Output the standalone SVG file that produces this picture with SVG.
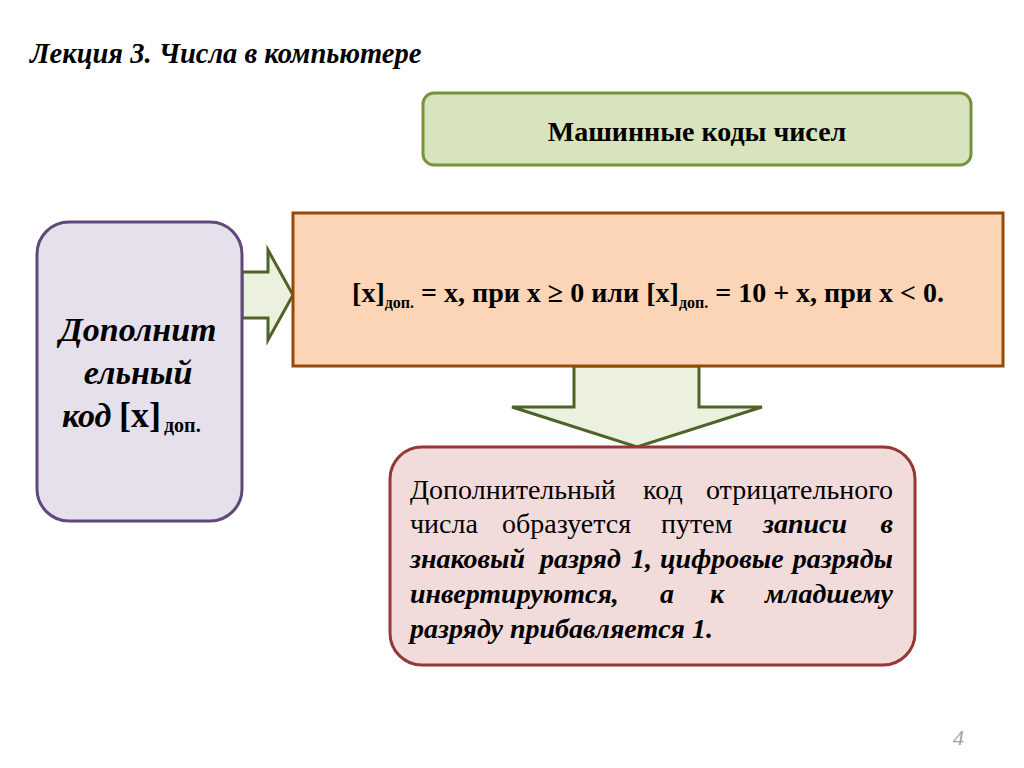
<svg xmlns="http://www.w3.org/2000/svg" width="1024" height="768" viewBox="0 0 1024 768">
<style>
text{font-family:'Liberation Serif','Times New Roman','DejaVu Serif',serif;fill:#000}
.bi{font-weight:bold;font-style:italic}
.b{font-weight:bold}
.arrow{fill:#ebf1de;stroke:#4f6228;stroke-width:3;stroke-linejoin:miter}
.body{font-size:28px}
</style>
<rect width="1024" height="768" fill="#fff"/>
<text id="title" class="bi" x="30" y="63" font-size="28.5">Лекция 3. Числа в компьютере</text>

<g id="connectors">
<polygon class="arrow" points="242,272 268,272 268,250 293,295 268,340 268,318 242,318"/>
<polygon class="arrow" points="574,366 699,366 699,407 762,407 637,447 512,407 574,407"/>
</g>

<g id="node-top">
<rect x="423" y="93" width="548" height="72" rx="11" fill="#d7e4bd" stroke="#77933c" stroke-width="3"/>
<text class="b" x="697" y="141" font-size="28" text-anchor="middle">Машинные коды чисел</text>
</g>

<g id="node-formula">
<rect x="293" y="213" width="710" height="153" fill="#fbd5b5" stroke="#984807" stroke-width="3"/>
<text class="b" x="648" y="302" font-size="28" text-anchor="middle">[x]<tspan font-size="16" dy="6">доп.</tspan><tspan dy="-6"> = x, при x ≥ 0 или [x]</tspan><tspan font-size="16" dy="6">доп.</tspan><tspan dy="-6"> = 10 + x, при x &lt; 0.</tspan></text>
</g>

<g id="node-left">
<rect x="37" y="222" width="205" height="299" rx="32" fill="#e5e0ec" stroke="#5f497a" stroke-width="3"/>
<text class="bi" x="138" y="341" font-size="34" text-anchor="middle">Дополнит</text>
<text class="bi" x="138" y="384" font-size="34" text-anchor="middle">ельный</text>
<text class="bi" x="62" y="427" font-size="34">код</text>
<text class="b" x="119" y="427" font-size="36">[x]</text>
<text class="b" x="164" y="432" font-size="20">доп.</text>
</g>

<g id="node-bottom">
<rect x="390" y="447" width="525" height="218" rx="32" fill="#f2dcdb" stroke="#953735" stroke-width="3"/>
<g class="body">
<text x="410" y="499">Дополнительный</text>
<text x="643" y="499">код</text>
<text x="893" y="499" text-anchor="end">отрицательного</text>
<text x="410" y="533">числа</text>
<text x="502" y="533">образуется</text>
<text x="661" y="533">путем</text>
<text class="bi" x="763" y="533">записи</text>
<text class="bi" x="893" y="533" text-anchor="end">в</text>
<text class="bi" x="410" y="568">знаковый</text>
<text class="bi" x="540" y="568">разряд</text>
<text class="bi" x="631" y="568">1,</text>
<text class="bi" x="660" y="568">цифровые</text>
<text class="bi" x="893" y="568" text-anchor="end">разряды</text>
<text class="bi" x="410" y="603">инвертируются,</text>
<text class="bi" x="660" y="603">а</text>
<text class="bi" x="710" y="603">к</text>
<text class="bi" x="893" y="603" text-anchor="end">младшему</text>
<text class="bi" x="410" y="638">разряду прибавляется 1.</text>
</g>
</g>

<text id="page-number" x="953" y="745" font-size="22" font-style="italic" style="fill:#a0a0a0">4</text>
</svg>
